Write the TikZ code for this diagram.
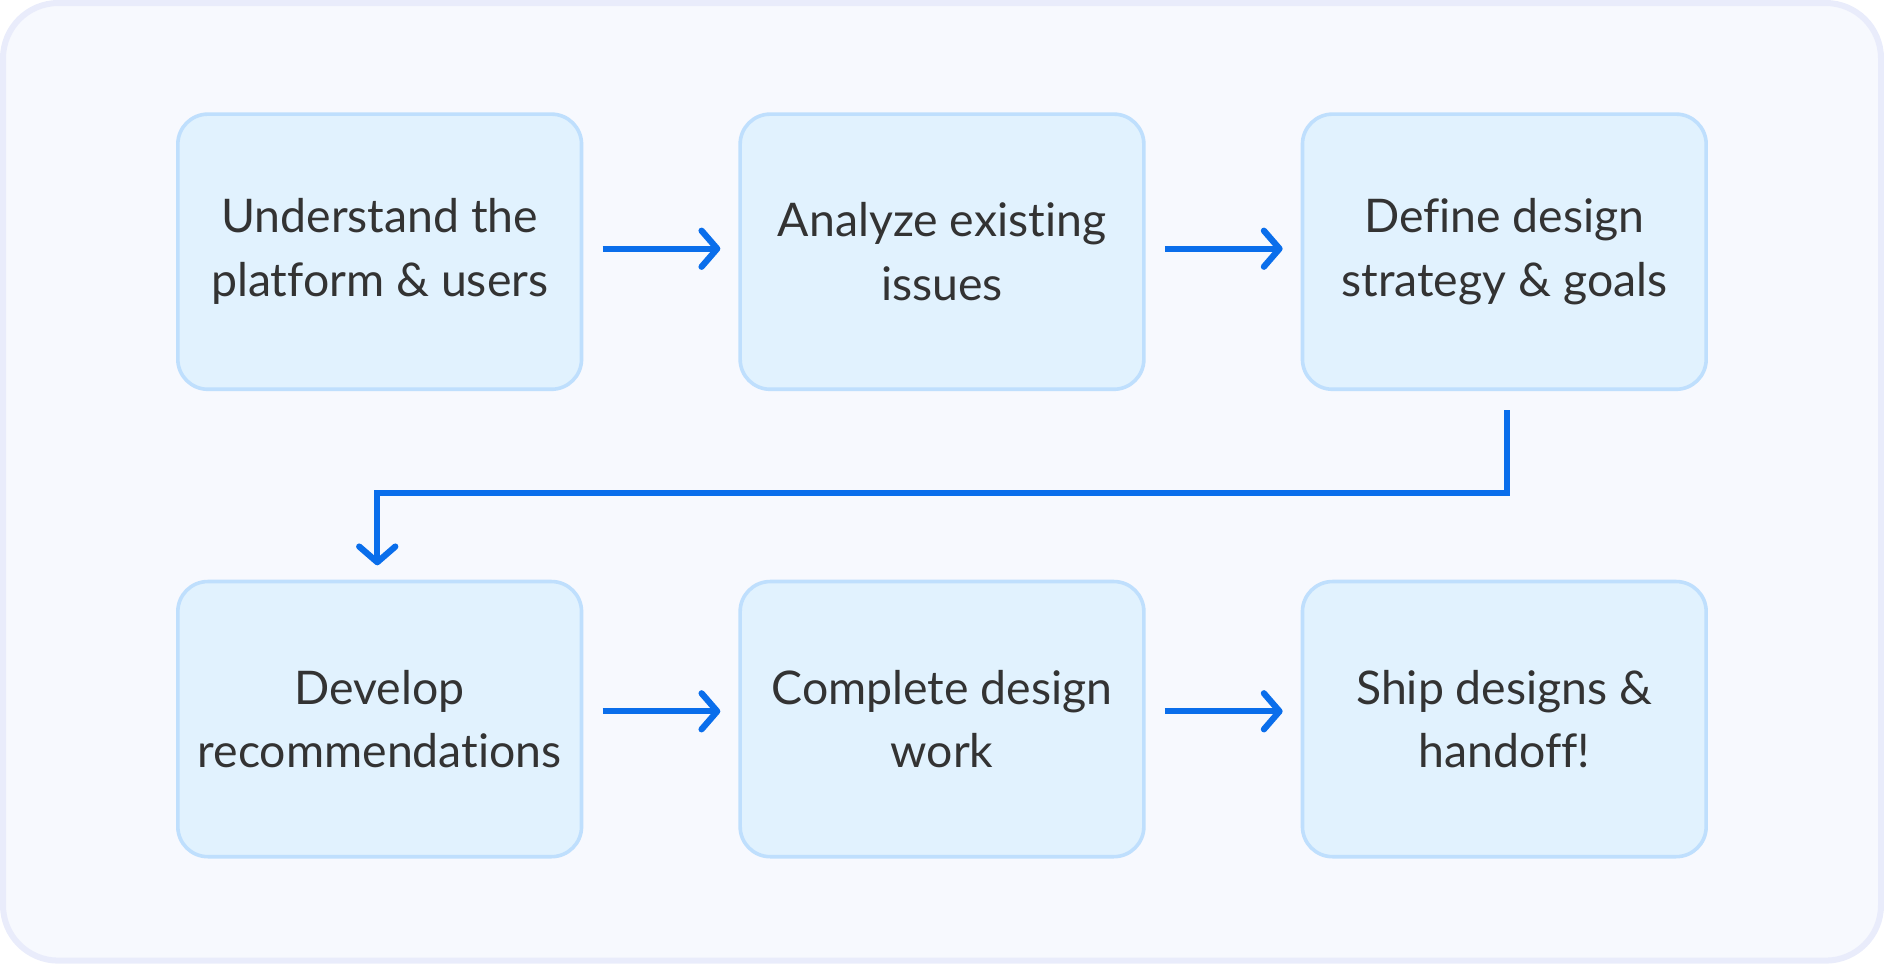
\documentclass[tikz,border=0pt]{standalone}
\usepackage{fontspec}
\setmainfont{Lato}[Ligatures=NoCommon]
\usepackage{xcolor}
\usetikzlibrary{positioning,calc,arrows.meta}
\definecolor{framefill}{RGB}{247, 249, 254}
\definecolor{framedraw}{RGB}{233, 236, 251}
\definecolor{stepfill}{RGB}{225, 242, 254}
\definecolor{stepdraw}{RGB}{191, 223, 253}
\definecolor{flowblue}{RGB}{10, 110, 235}
\definecolor{textgray}{RGB}{51, 51, 51}

\begin{document}
\begin{tikzpicture}[x=0.5pt,y=-0.5pt,
        stepbox/.style={draw=stepdraw,fill=stepfill,line width=1.5pt,rounded corners=12.5pt,
            minimum width=168pt,minimum height=114.5pt,align=center,text=textgray,
            font=\fontsize{19.3pt}{26.5pt}\selectfont},
        flow/.style={draw=flowblue,line width=2.6pt,-{Straight Barb[length=6.5pt,width=15pt,round]}},
        node distance=78.5pt and 64.5pt]
        \useasboundingbox (0,0) rectangle (1568,802);

        % Frame
        \draw[draw=framedraw,fill=framefill,line width=2.5pt,rounded corners=23pt] (2.5,2.5) rectangle (1565.5,799.5);

        % Steps
        \node[stepbox] (s1) at (316,209.5) {Understand the\\platform \& users};
        \node[stepbox,right=of s1] (s2) {Analyze existing\\issues};
        \node[stepbox,right=of s2] (s3) {Define design\\strategy \& goals};
        \node[stepbox,below=of s1] (s4) {Develop\\recommendations};
        \node[stepbox,right=of s4] (s5) {Complete design\\work};
        \node[stepbox,right=of s5] (s6) {Ship designs \&\\handoff!};

        % Arrows
        \draw[flow] ([shift={(8pt,1.25pt)}]s1.east) -- ([shift={(-7.5pt,1.25pt)}]s2.west);
        \draw[flow] ([shift={(8pt,1.25pt)}]s2.east) -- ([shift={(-7.5pt,1.25pt)}]s3.west);
        \draw[flow] ([shift={(1pt,-8pt)}]s3.south) -- ++(0,-34.5pt) -| ([shift={(-1pt,6pt)}]s4.north);
        \draw[flow] ([shift={(8pt,3.25pt)}]s4.east) -- ([shift={(-7.5pt,3.25pt)}]s5.west);
        \draw[flow] ([shift={(8pt,3.25pt)}]s5.east) -- ([shift={(-7.5pt,3.25pt)}]s6.west);

    \end{tikzpicture}
\end{document}
